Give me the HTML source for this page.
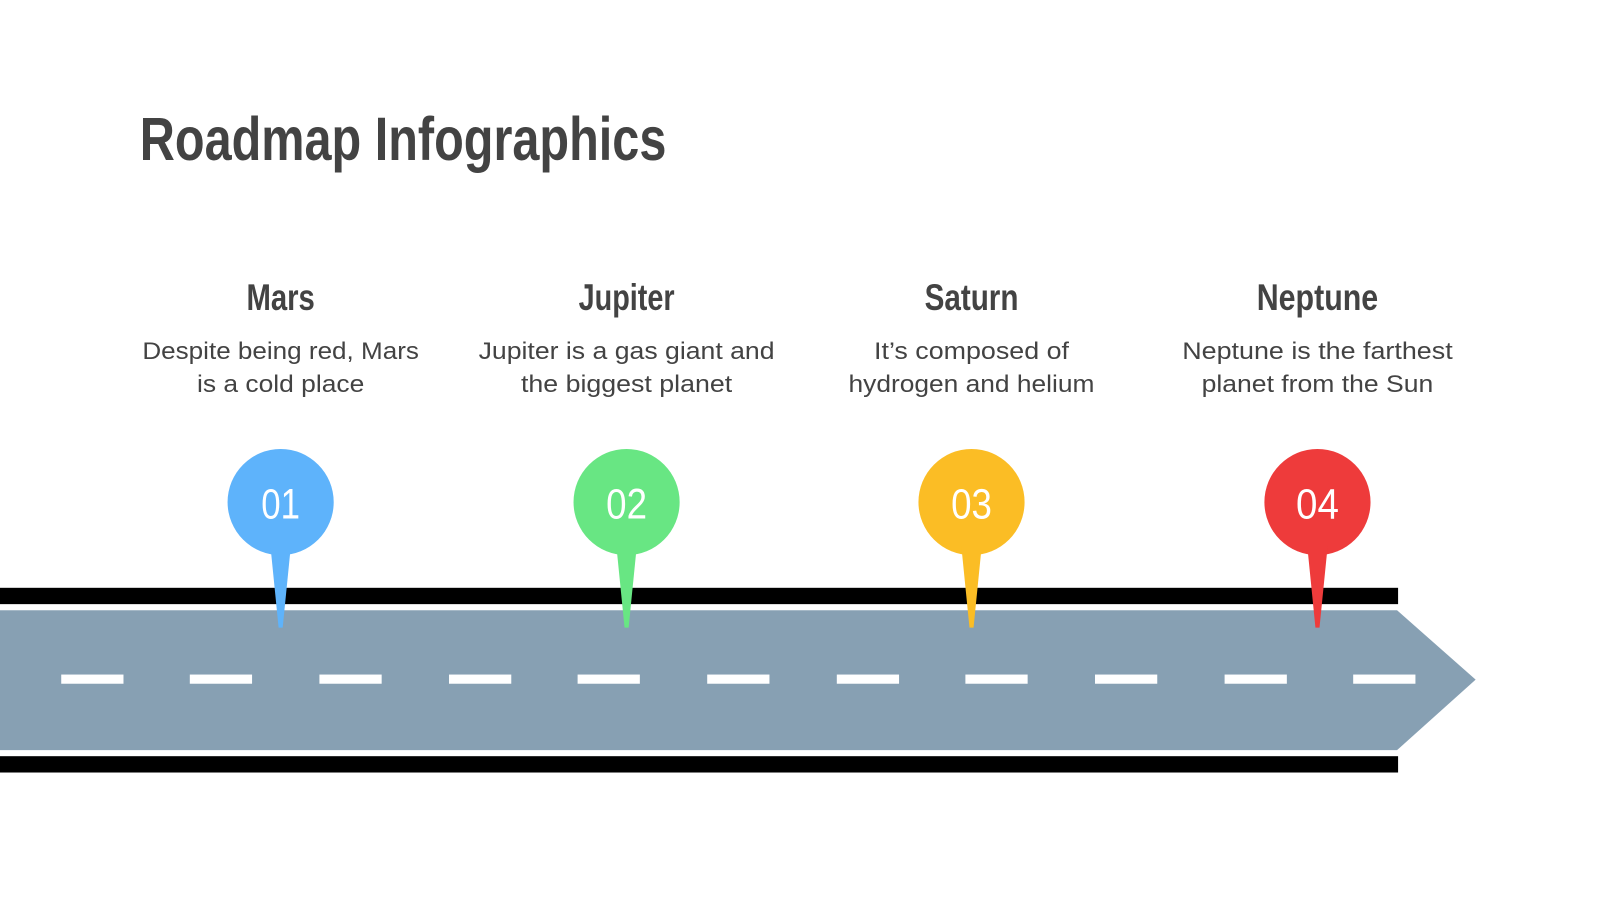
<!DOCTYPE html>
<html><head><meta charset="utf-8"><style>html,body{margin:0;padding:0;background:#fff}svg{display:block}</style></head>
<body>
<svg width="1600" height="900" viewBox="0 0 1600 900" xmlns="http://www.w3.org/2000/svg" font-family="Liberation Sans, sans-serif">
<rect width="1600" height="900" fill="#fff"/>
<g transform="scale(1.0205)">
<text x="137" y="157" font-size="60" font-weight="bold" fill="#434343" textLength="516" lengthAdjust="spacingAndGlyphs">Roadmap Infographics</text>

<g fill="#434343" font-size="36" font-weight="bold" text-anchor="middle">
<text x="275" y="304" textLength="67" lengthAdjust="spacingAndGlyphs">Mars</text>
<text x="614" y="304" textLength="94" lengthAdjust="spacingAndGlyphs">Jupiter</text>
<text x="952" y="304" textLength="92" lengthAdjust="spacingAndGlyphs">Saturn</text>
<text x="1291" y="304" textLength="119" lengthAdjust="spacingAndGlyphs">Neptune</text>
</g>
<g fill="#434343" font-size="24" text-anchor="middle">
<text x="275" y="352" textLength="271" lengthAdjust="spacingAndGlyphs">Despite being red, Mars</text>
<text x="275" y="384" textLength="164" lengthAdjust="spacingAndGlyphs">is a cold place</text>
<text x="614" y="352" textLength="290" lengthAdjust="spacingAndGlyphs">Jupiter is a gas giant and</text>
<text x="614" y="384" textLength="207" lengthAdjust="spacingAndGlyphs">the biggest planet</text>
<text x="952" y="352" textLength="191" lengthAdjust="spacingAndGlyphs">It’s composed of</text>
<text x="952" y="384" textLength="241" lengthAdjust="spacingAndGlyphs">hydrogen and helium</text>
<text x="1291" y="352" textLength="265" lengthAdjust="spacingAndGlyphs">Neptune is the farthest</text>
<text x="1291" y="384" textLength="227" lengthAdjust="spacingAndGlyphs">planet from the Sun</text>
</g>

<rect x="0" y="576" width="1370" height="16" fill="#000"/>
<rect x="0" y="741" width="1370" height="16" fill="#000"/>
<polygon points="0,598 1369,598 1446,666 1369,735 0,735" fill="#87a0b3"/>
<g fill="#fff">
<rect x="60" y="661" width="61" height="9"/>
<rect x="186" y="661" width="61" height="9"/>
<rect x="313" y="661" width="61" height="9"/>
<rect x="440" y="661" width="61" height="9"/>
<rect x="566" y="661" width="61" height="9"/>
<rect x="693" y="661" width="61" height="9"/>
<rect x="820" y="661" width="61" height="9"/>
<rect x="946" y="661" width="61" height="9"/>
<rect x="1073" y="661" width="61" height="9"/>
<rect x="1200" y="661" width="61" height="9"/>
<rect x="1326" y="661" width="61" height="9"/>
</g>

<g font-size="42" fill="#fff" text-anchor="middle">
<g fill="#5eb3fb"><circle cx="275" cy="492" r="52"/><polygon points="265,535 285,535 277,615 273,615"/></g>
<text x="275" y="508" textLength="38" lengthAdjust="spacingAndGlyphs">01</text>
<g fill="#68e683"><circle cx="614" cy="492" r="52"/><polygon points="604,535 624,535 616,615 612,615"/></g>
<text x="614" y="508" textLength="40" lengthAdjust="spacingAndGlyphs">02</text>
<g fill="#fbbd25"><circle cx="952" cy="492" r="52"/><polygon points="942,535 962,535 954,615 950,615"/></g>
<text x="952" y="508" textLength="40" lengthAdjust="spacingAndGlyphs">03</text>
<g fill="#ee3b3b"><circle cx="1291" cy="492" r="52"/><polygon points="1281,535 1301,535 1293,615 1289,615"/></g>
<text x="1291" y="508" textLength="42" lengthAdjust="spacingAndGlyphs">04</text>
</g>
</g>
</svg>
</body></html>
